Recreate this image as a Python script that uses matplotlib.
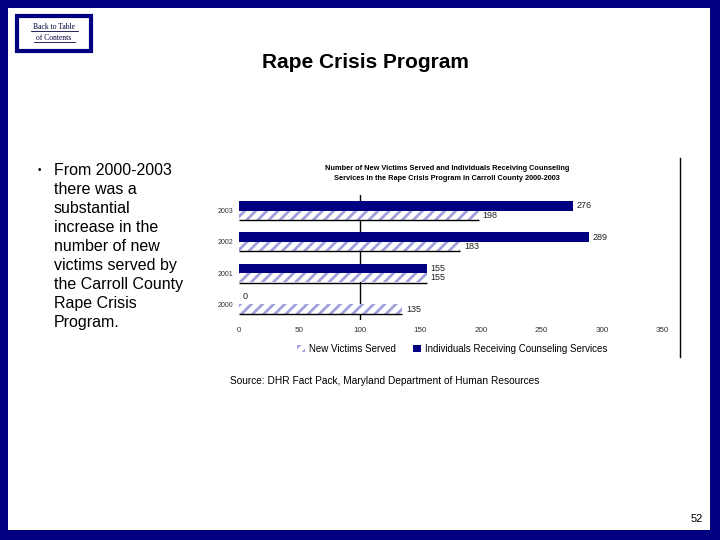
import matplotlib
matplotlib.use("Agg")
import matplotlib.pyplot as plt
import numpy as np
from matplotlib.patches import Rectangle
from matplotlib.lines import Line2D

# data
years = ["2000", "2001", "2002", "2003"]
new_victims = [135, 155, 183, 198]
counseling = [0, 155, 289, 276]
xticks = [0, 50, 100, 150, 200, 250, 300, 350]

navy = "#000080"
hatchcol = "#a0a0dc"

plt.rcParams["font.family"] = ["Liberation Sans", "DejaVu Sans"]
plt.rcParams["hatch.linewidth"] = 2.0

fig = plt.figure(figsize=(7.2, 5.4), dpi=100)

# slide border
for (x, y, w, h) in [(0, 0, 8/720, 1), (0, 1-8/540, 1, 8/540),
                     (1-10/720, 0, 10/720, 1), (0, 0, 1, 10/540)]:
  fig.patches.append(Rectangle((x, y), w, h, transform=fig.transFigure,
                               facecolor=navy, edgecolor="none", zorder=5))

# back to table box
fig.patches.append(Rectangle((17/720, 1-51/540), 74/720, 35/540, transform=fig.transFigure,
                             facecolor="white", edgecolor=navy, linewidth=3))
fig.text(54/720, 1-27/540, "Back to Table", fontsize=5.5, family="Liberation Serif",
         ha="center", va="center", color="#000040")
fig.text(54/720, 1-38/540, "of Contents", fontsize=5.5, family="Liberation Serif",
         ha="center", va="center", color="#000040")
fig.add_artist(Line2D([31/720, 78/720], [1-31/540, 1-31/540], color="#000040", linewidth=0.6))
fig.add_artist(Line2D([34/720, 75/720], [1-42/540, 1-42/540], color="#000040", linewidth=0.6))

fig.text(365/720, 1-62/540, "Rape Crisis Program", fontsize=15, fontweight="bold",
         ha="center", va="center")

bullet_lines = ["From 2000-2003", "there was a", "substantial", "increase in the",
                "number of new", "victims served by", "the Carroll County",
                "Rape Crisis", "Program."]
fig.text(39/720, 1-170/540, "\u2022", fontsize=7, ha="center", va="center")
for i in range(len(bullet_lines)):
  fig.text(54/720, 1-(170+19.1*i)/540, bullet_lines[i], fontsize=11.5, ha="left", va="center")

# chart
ax = fig.add_axes([239/720, 1-320/540, 423.5/720, 125/540])
y = np.arange(len(years))
h = 0.3
b1 = ax.barh(y-h/2, new_victims, height=h, facecolor="white", edgecolor=hatchcol,
             hatch="///", linewidth=0, label="New Victims Served", zorder=3)
b2 = ax.barh(y+h/2, counseling, height=h, color=navy,
             label="Individuals Receiving Counseling Services", zorder=3)
ax.hlines(y-h, 0, new_victims, color="black", linewidth=1, zorder=4)
for i in range(len(years)):
  ax.text(new_victims[i]+3, y[i]-h/2, str(new_victims[i]), fontsize=6.5, va="center",
          color="#222222")
  ax.text(counseling[i]+3, y[i]+h/2+(0.1 if counseling[i] == 0 else 0),
          str(counseling[i]), fontsize=6.5, va="center", color="#222222")
ax.axvline(100, color="black", linewidth=1, zorder=1)
ax.set_xlim(0, 350)
ax.set_ylim(-0.5, 3.5)
ax.set_xticks(xticks)
ax.set_xticklabels([str(t) for t in xticks], fontsize=5.8, color="#333333")
ax.set_yticks(y)
ax.set_yticklabels(years, fontsize=5, color="#333333")
ax.tick_params(axis="both", length=0)
ax.tick_params(axis="x", pad=5)
ax.tick_params(axis="y", pad=4)
for s in ax.spines.values():
  s.set_visible(False)

fig.text(447/720, 1-174/540,
         "Number of New Victims Served and Individuals Receiving Counseling\n"
         "Services in the Rape Crisis Program in Carroll County 2000-2003",
         fontsize=5.3, fontweight="bold", ha="center", va="center", linespacing=1.6)

fig.legend(handles=[b1, b2], loc="center", bbox_to_anchor=(452/720, 1-349/540), ncol=2,
           frameon=False, fontsize=7, handlelength=0.8, handleheight=0.8,
           columnspacing=1.8, handletextpad=0.4)

fig.add_artist(Line2D([680/720, 680/720], [1-158/540, 1-357/540], color="black", linewidth=1))

fig.text(230/720, 1-381/540, "Source: DHR Fact Pack, Maryland Department of Human Resources",
         fontsize=7.3, ha="left", va="center")
fig.text(697/720, 1-519/540, "52", fontsize=8, ha="center", va="center")

fig.savefig("out.png", dpi=100)
